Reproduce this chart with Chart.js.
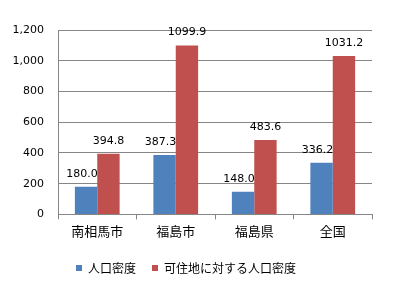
<!DOCTYPE html>
<html><head><meta charset="utf-8">
<script src="https://cdn.jsdelivr.net/npm/chart.js@4"></script>
<style>html,body{margin:0;padding:0;background:#fff}#wrap{width:404px;height:290px}</style>
</head><body><div id="wrap"><canvas id="c" width="404" height="290"></canvas></div>
<script>
const categories = ['南相馬市', '福島市', '福島県', '全国'];
const seriesNames = ['人口密度', '可住地に対する人口密度'];
const density = [180.0, 387.3, 148.0, 336.2];
const habitableDensity = [394.8, 1099.9, 483.6, 1031.2];
const yTicks = [0, 200, 400, 600, 800, 1000, 1200];

const numFont = "'DejaVu Sans', sans-serif";
const jpFont = "'Noto Sans CJK JP', sans-serif";

const labelPlugin = {
  id: 'vlabels',
  afterDatasetsDraw(chart) {
    const ctx = chart.ctx;
    ctx.save();
    ctx.font = '11px ' + numFont;
    ctx.fillStyle = '#000';
    ctx.textAlign = 'center';
    ctx.textBaseline = 'middle';
    chart.data.datasets.forEach((ds, i) => {
      chart.getDatasetMeta(i).data.forEach((bar, j) => {
        ctx.fillText(ds.data[j].toFixed(1), bar.x - (i === 0 ? 4 : 0), bar.y - 13);
      });
    });
    ctx.restore();
  }
};

new Chart(document.getElementById('c'), {
  type: 'bar',
  data: {
    labels: categories,
    datasets: [
      { label: seriesNames[0], data: density, backgroundColor: '#4F81BD' },
      { label: seriesNames[1], data: habitableDensity, backgroundColor: '#C0504D' }
    ]
  },
  options: {
    responsive: false,
    animation: false,
    devicePixelRatio: 1,
    layout: { padding: { left: 0, right: 32, top: 30, bottom: 6 } },
    datasets: { bar: { categoryPercentage: 0.57, barPercentage: 1.0 } },
    scales: {
      y: {
        min: 0, max: 1200,
        afterBuildTicks(s) { s.ticks = yTicks.map(v => ({ value: v })); },
        afterFit(s) { s.width = 58; },
        ticks: { font: { family: numFont, size: 11 }, color: '#000', padding: 14,
          callback: v => v.toLocaleString('en-US') },
        grid: { color: '#868686', drawTicks: false, lineWidth: 1 },
        border: { color: '#868686' }
      },
      x: {
        offset: true,
        afterFit(s) { s.height += 3; },
        grid: { offset: true, drawOnChartArea: false, color: '#868686', tickLength: 5 },
        border: { color: '#868686' },
        ticks: { font: { family: jpFont, size: 13 }, color: '#000', padding: 4 }
      }
    },
    plugins: {
      legend: {
        position: 'bottom',
        labels: { font: { family: jpFont, size: 12 }, color: '#000', boxWidth: 6, boxHeight: 6, padding: 16 }
      },
      tooltip: { enabled: false }
    }
  },
  plugins: [labelPlugin]
});
</script>
</body></html>
